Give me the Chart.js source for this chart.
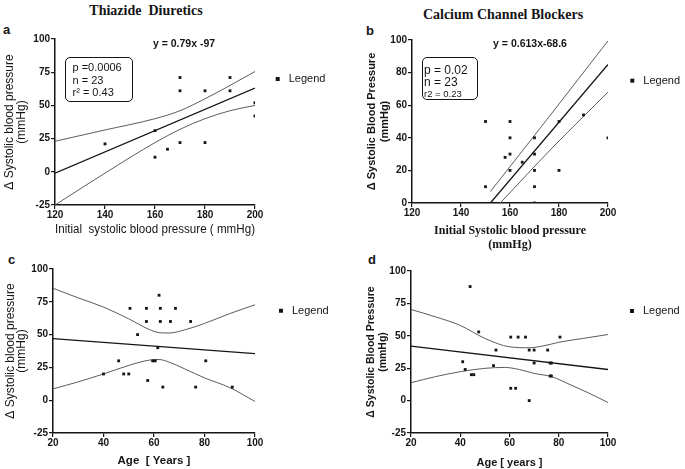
<!DOCTYPE html>
<html>
<head>
<meta charset="utf-8">
<script src="https://cdn.jsdelivr.net/npm/chart.js@4.4.1/dist/chart.umd.min.js"></script>
<style>
html,body{margin:0;padding:0;background:#fff;}
body{width:685px;height:469px;position:relative;overflow:hidden;font-family:"Liberation Sans",Arial,sans-serif;color:#151515;}
.cv{position:absolute;}
.t{position:absolute;white-space:nowrap;line-height:1;}
.box{position:absolute;box-sizing:border-box;border:1.5px solid #151515;border-radius:5px;}
</style>
</head>
<body>
<div class="t" style="left:146px;top:3px;transform:translateX(-50%);font:bold 14px 'Liberation Serif',serif;">Thiazide&nbsp; Diuretics</div>
<div class="t" style="left:503px;top:7px;transform:translateX(-50%);font:bold 14px 'Liberation Serif',serif;">Calcium Channel Blockers</div>

<div class="t" style="left:3px;top:22px;font:bold 13px 'Liberation Sans';">a</div>
<div class="t" style="left:366px;top:23px;font:bold 13px 'Liberation Sans';">b</div>
<div class="t" style="left:8px;top:252px;font:bold 13px 'Liberation Sans';">c</div>
<div class="t" style="left:368px;top:252px;font:bold 13px 'Liberation Sans';">d</div>

<div class="cv" style="left:0;top:30px;width:340px;height:210px;"><canvas id="chartA"></canvas></div>
<div class="cv" style="left:360px;top:30px;width:340px;height:225px;"><canvas id="chartB"></canvas></div>
<div class="cv" style="left:0;top:255px;width:340px;height:214px;"><canvas id="chartC"></canvas></div>
<div class="cv" style="left:360px;top:255px;width:340px;height:214px;"><canvas id="chartD"></canvas></div>

<div class="t" style="left:184px;top:37px;transform:translateX(-50%);font:bold 10.5px 'Liberation Sans';">y = 0.79x -97</div>
<div class="box" style="left:65px;top:57px;width:68px;height:45px;"></div>
<div class="t" style="left:72.5px;top:61.3px;font:11px 'Liberation Sans';">p =0.0006</div>
<div class="t" style="left:72.5px;top:73.8px;font:11px 'Liberation Sans';">n = 23</div>
<div class="t" style="left:72.5px;top:86.3px;font:11px 'Liberation Sans';">r² = 0.43</div>

<div class="t" style="left:530px;top:37px;transform:translateX(-50%);font:bold 10.5px 'Liberation Sans';">y = 0.613x-68.6</div>
<div class="box" style="left:421.5px;top:56.5px;width:56.5px;height:43.5px;"></div>
<div class="t" style="left:424px;top:63.2px;font:12px 'Liberation Sans';">p = 0.02</div>
<div class="t" style="left:424px;top:75.4px;font:12px 'Liberation Sans';">n = 23</div>
<div class="t" style="left:424px;top:88.3px;font:9.5px 'Liberation Sans';">r2 = 0.23</div>

<script>
// ---------- Panel a: Thiazide diuretics, change in SBP vs initial SBP ----------
const aInitialSBP = [140, 160, 160, 165, 170, 170, 170, 180, 180, 190, 190, 200, 200];
const aDeltaSBP   = [21, 31, 11, 17, 71, 61, 22, 61, 22, 71, 61, 52, 42];
const aFitX   = [120, 200];
const aFitY   = [-1, 63];
const aBandX  = [120, 140, 160, 170, 180, 190, 200];
const aUpperY = [23, 31.5, 40, 46, 55, 65, 75.5];
const aLowerY = [-25, -1, 22, 32, 40, 46, 50];
const aXTicks = [120, 140, 160, 180, 200];
const aYTicks = [-25, 0, 25, 50, 75, 100];

// ---------- Panel b: Calcium channel blockers, change in SBP vs initial SBP ----------
const bInitialSBP = [150, 150, 160, 160, 160, 160, 158, 165, 170, 170, 170, 170, 170, 180, 180, 190, 200];
const bDeltaSBP   = [50, 10, 50, 40, 30, 20, 28, 25, 40, 30, 20, 10, 0, 50, 20, 54, 40];
const bFitX   = [152, 200];
const bFitY   = [0, 85];
const bUpperX = [152, 176, 200];
const bUpperY = [7, 53, 99.5];
const bLowerX = [156, 178, 200];
const bLowerY = [0, 35, 68];
const bXTicks = [120, 140, 160, 180, 200];
const bYTicks = [0, 20, 40, 60, 80, 100];

// ---------- Panel c: Thiazide diuretics, change in SBP vs age ----------
const cAge      = [40, 46, 48, 50, 50.5, 53.5, 57, 57, 57.5, 59.5, 60.5, 61.5, 62, 62.5, 62.5, 63.5, 66.5, 68.5, 74.5, 76.5, 80.5, 91];
const cDeltaSBP = [20, 30, 20, 20, 70, 50, 70, 60, 15, 30, 30, 40, 80, 70, 60, 10, 60, 70, 60, 10, 30, 10];
const cFitX   = [20, 100];
const cFitY   = [47, 35.5];
const cBandX  = [20, 30, 40, 50, 58, 62, 66, 72, 80, 90, 100];
const cUpperY = [85.3, 78, 71, 62, 54, 51.5, 51.2, 53.5, 58.5, 66, 72.7];
const cLowerY = [8.6, 14, 20, 26.5, 30.5, 31, 29, 24, 17, 9.6, -1];
const cXTicks = [20, 40, 60, 80, 100];
const cYTicks = [-25, 0, 25, 50, 75, 100];

// ---------- Panel d: Calcium channel blockers, change in SBP vs age ----------
const dAge      = [41, 42, 44, 44.5, 45.5, 47.5, 53.5, 54.5, 60.5, 60.5, 62.5, 63.5, 66.5, 68, 68, 70, 70, 75.5, 76.5, 77, 76.5, 77, 80.5];
const dDeltaSBP = [30, 24, 88, 20, 20, 53, 27, 39, 49, 9.5, 9.5, 49, 49, 39, 0, 39, 29, 39, 29, 29, 19, 19, 49];
const dFitX   = [20, 100];
const dFitY   = [42, 24];
const dUpperX = [20, 30, 40, 50, 60, 68, 74, 80, 90, 100];
const dUpperY = [70.3, 64.6, 58, 48, 41.5, 40.8, 42.3, 45, 48, 51];
const dLowerX = [20, 30, 40, 50, 58, 64, 70, 77, 85, 92, 100];
const dLowerY = [13.8, 18.5, 22.3, 24.9, 25.6, 24, 21, 18.5, 12, 6, -1.5];
const dXTicks = [20, 40, 60, 80, 100];
const dYTicks = [-25, 0, 25, 50, 75, 100];

const INK = '#151515';
const BAND = '#4a4a4a';
const LEG_FONT = 11, LEG_BOX = 11;
const pair = (xs, ys) => xs.map((v, i) => ({ x: v, y: ys[i] }));

// natural width of the single-item right legend (Chart.js: padding + box + font/2 + text + 10)
function legendWidth(pad) {
  const ctx = document.createElement('canvas').getContext('2d');
  ctx.font = 'normal ' + LEG_FONT + 'px Liberation Sans';
  return pad + LEG_BOX + LEG_FONT / 2 + ctx.measureText('Legend').width + 10;
}

function buildPanel(canvasId, d, L) {
  const lineDs = (label, pts, w, col) => ({
    label, data: pts, showLine: true, pointRadius: 0, pointHoverRadius: 0,
    borderColor: col, backgroundColor: col, borderWidth: w, fill: false,
    cubicInterpolationMode: 'monotone'
  });
  const padRight = L.rightSpace - legendWidth(L.legPad);
  return new Chart(document.getElementById(canvasId), {
    type: 'scatter',
    data: {
      datasets: [
        { label: 'Legend', data: pair(d.x, d.y), pointStyle: 'rect', pointRadius: 2,
          pointHoverRadius: 2, backgroundColor: INK, borderColor: INK, borderWidth: 0 },
        lineDs('Regression line', pair(d.fitX, d.fitY), 1.3, INK),
        lineDs('Upper 95% confidence band', pair(d.upX, d.upY), 0.9, BAND),
        lineDs('Lower 95% confidence band', pair(d.loX, d.loY), 0.9, BAND)
      ]
    },
    options: {
      responsive: true, maintainAspectRatio: false, animation: false,
      layout: { padding: { top: L.padTop, right: padRight, bottom: 0, left: 0 } },
      plugins: {
        tooltip: { enabled: false },
        legend: {
          position: 'right', align: 'start', fullSize: false,
          title: { display: true, text: '', padding: { top: L.legTitle - 1, bottom: 0 }, font: { size: 1, lineHeight: 1 } },
          labels: {
            filter: it => it.text === 'Legend',
            usePointStyle: true, pointStyle: 'rect', boxWidth: LEG_BOX, boxHeight: 4,
            padding: L.legPad, color: INK,
            font: { family: 'Liberation Sans', size: LEG_FONT }
          }
        }
      },
      scales: {
        x: {
          type: 'linear', min: d.xTicks[0], max: d.xTicks[d.xTicks.length - 1],
          afterBuildTicks: s => { s.ticks = d.xTicks.map(v => ({ value: v })); },
          afterFit: s => { s.height = L.xAxisH; },
          ticks: { color: INK, padding: 0, maxRotation: 0, autoSkip: false,
                   font: { family: 'Liberation Sans', size: 10, weight: 'bold' } },
          grid: { display: true, drawOnChartArea: false, drawTicks: true, tickLength: 4, color: INK, lineWidth: 1.2 },
          border: { display: true, color: INK, width: 1.5 },
          title: { display: true, text: L.xTitle, color: INK, font: L.xFont, padding: { top: 0, bottom: L.xPad } }
        },
        y: {
          type: 'linear', min: d.yTicks[0], max: d.yTicks[d.yTicks.length - 1],
          afterBuildTicks: s => { s.ticks = d.yTicks.map(v => ({ value: v })); },
          afterFit: s => { s.width = L.yAxisW; },
          ticks: { color: INK, padding: 1, autoSkip: false,
                   font: { family: 'Liberation Sans', size: 10, weight: 'bold' } },
          grid: { display: true, drawOnChartArea: false, drawTicks: true, tickLength: 4, color: INK, lineWidth: 1.2 },
          border: { display: true, color: INK, width: 1.5 },
          title: { display: true, text: L.yTitle, color: INK, font: L.yFont, padding: { top: L.yPad, bottom: 0 } }
        }
      }
    }
  });
}

buildPanel('chartA',
  { x: aInitialSBP, y: aDeltaSBP, fitX: aFitX, fitY: aFitY, upX: aBandX, upY: aUpperY, loX: aBandX, loY: aLowerY, xTicks: aXTicks, yTicks: aYTicks },
  { padTop: 9, rightSpace: 85, yAxisW: 55, xAxisH: 35, legPad: 17.2, legTitle: 17.3,
    xTitle: 'Initial  systolic blood pressure ( mmHg)', xFont: { family: 'Liberation Sans', size: 12, lineHeight: 1 }, xPad: 4,
    yTitle: ['Δ Systolic blood pressure', '(mmHg)'], yFont: { family: 'Liberation Sans', size: 12, lineHeight: 1 }, yPad: 4 });

buildPanel('chartB',
  { x: bInitialSBP, y: bDeltaSBP, fitX: bFitX, fitY: bFitY, upX: bUpperX, upY: bUpperY, loX: bLowerX, loY: bLowerY, xTicks: bXTicks, yTicks: bYTicks },
  { padTop: 10, rightSpace: 92, yAxisW: 52, xAxisH: 52, legPad: 18.8, legTitle: 16.4,
    xTitle: ['Initial Systolic blood pressure', '(mmHg)'], xFont: { family: 'Liberation Serif', size: 12, weight: 'bold', lineHeight: 1.1667 }, xPad: 3,
    yTitle: ['Δ Systolic Blood Pressure', '(mmHg)'], yFont: { family: 'Liberation Sans', size: 11, weight: 'bold', lineHeight: 1.2 }, yPad: 5.1 });

buildPanel('chartC',
  { x: cAge, y: cDeltaSBP, fitX: cFitX, fitY: cFitY, upX: cBandX, upY: cUpperY, loX: cBandX, loY: cLowerY, xTicks: cXTicks, yTicks: cYTicks },
  { padTop: 14, rightSpace: 85, yAxisW: 53, xAxisH: 36, legPad: 20.5, legTitle: 15.7,
    xTitle: 'Age  [ Years ]', xFont: { family: 'Liberation Sans', size: 11.5, weight: 'bold', lineHeight: 1 }, xPad: 2.5,
    yTitle: ['Δ Systolic blood pressure', '(mmHg)'], yFont: { family: 'Liberation Sans', size: 12, lineHeight: 0.9 }, yPad: 5.6 });

buildPanel('chartD',
  { x: dAge, y: dDeltaSBP, fitX: dFitX, fitY: dFitY, upX: dUpperX, upY: dUpperY, loX: dLowerX, loY: dLowerY, xTicks: dXTicks, yTicks: dYTicks },
  { padTop: 16, rightSpace: 92, yAxisW: 51, xAxisH: 36, legPad: 18.5, legTitle: 16,
    xTitle: 'Age [ years ]', xFont: { family: 'Liberation Sans', size: 11, weight: 'bold', lineHeight: 1 }, xPad: 0.8,
    yTitle: ['Δ Systolic Blood Pressure', '(mmHg)'], yFont: { family: 'Liberation Sans', size: 10.5, weight: 'bold', lineHeight: 1.15 }, yPad: 5 });
</script>
</body>
</html>
